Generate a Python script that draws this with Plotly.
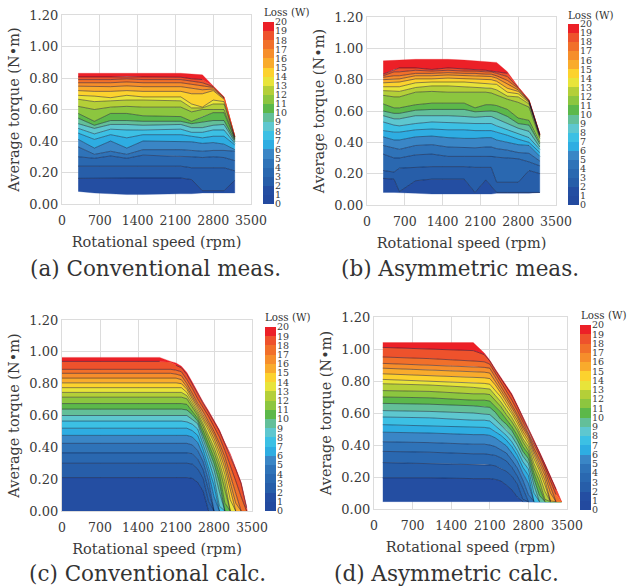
import numpy as np
import plotly.graph_objects as go

W, H = 629, 588

LOSS_TICKS = list(range(21))
BAND_COLORS = ["#234a9f", "#244ea2", "#275ea9", "#2a68b0", "#2f73b8", "#3a86c6", "#2eade2",
               "#3cc0e4", "#5ec7cf", "#63bf99", "#5cb84a", "#8cc63f", "#b4cf38", "#e8e43a",
               "#fcd22e", "#f9ab2c", "#f68e2b", "#f1702a", "#ee522c", "#ec2027"]
SPEED_TICKS = [0, 700, 1400, 2100, 2800, 3500]
TORQUE_TICKS = [0.0, 0.2, 0.4, 0.6, 0.8, 1.0, 1.2]

# Each row: torque of one loss contour (1 W ... 20 W) over the speeds; no region is below 1 W
A_SPEED = [300, 600, 900, 1200, 1500, 2200, 2400, 2600, 2800, 3000, 3200]
A_TORQUE = [
    [.08, .07, .065, .06, .06, .065, .065, .07, .07, .07, .07],
    [.163, .165, .165, .165, .165, .165, .155, .085, .085, .085, .15],
    [.24, .24, .24, .24, .24, .24, .23, .23, .23, .23, .21],
    [.30, .29, .305, .29, .31, .305, .30, .295, .30, .295, .275],
    [.363, .315, .335, .315, .345, .345, .34, .335, .34, .34, .335],
    [.41, .355, .40, .355, .40, .395, .395, .385, .39, .38, .345],
    [.45, .41, .44, .42, .44, .44, .43, .42, .43, .43, .375],
    [.48, .445, .475, .47, .47, .475, .455, .455, .47, .47, .385],
    [.51, .48, .505, .505, .50, .505, .485, .485, .50, .505, .395],
    [.545, .50, .53, .53, .525, .525, .51, .52, .53, .53, .405],
    [.575, .525, .575, .575, .56, .555, .525, .555, .58, .58, .41],
    [.62, .60, .615, .62, .615, .615, .585, .60, .60, .60, .415],
    [.665, .65, .655, .66, .66, .655, .61, .61, .635, .635, .42],
    [.69, .685, .675, .69, .68, .68, .635, .615, .66, .65, .425],
    [.72, .715, .715, .72, .715, .715, .70, .70, .72, .665, .427],
    [.748, .745, .745, .75, .745, .745, .735, .725, .73, .672, .428],
    [.77, .77, .77, .775, .77, .77, .76, .75, .74, .675, .429],
    [.79, .79, .79, .795, .79, .79, .78, .77, .745, .678, .43],
    [.807, .807, .807, .81, .807, .805, .795, .79, .748, .68, .43],
    [.83, .83, .83, .83, .83, .83, .825, .82, .75, .68, .43],
]

B_SPEED = [300, 500, 600, 900, 1200, 1500, 1800, 2000, 2200, 2300, 2400, 2600, 2800, 3000, 3200]
B_TORQUE = [
    [.08, .08, .08, .075, .07, .07, .07, .07, .07, .07, .075, .075, .075, .075, .08],
    [.17, .165, .085, .155, .165, .165, .165, .08, .16, .12, .08, .08, .08, .08, .08],
    [.22, .21, .235, .24, .245, .245, .245, .24, .24, .24, .145, .145, .145, .22, .20],
    [.325, .30, .30, .32, .325, .31, .31, .31, .31, .31, .305, .30, .295, .275, .25],
    [.38, .365, .355, .38, .385, .37, .365, .365, .37, .37, .36, .35, .335, .33, .28],
    [.435, .415, .415, .435, .44, .43, .425, .425, .43, .43, .415, .40, .385, .38, .31],
    [.475, .465, .465, .48, .485, .48, .48, .475, .475, .475, .465, .445, .42, .40, .335],
    [.53, .51, .505, .52, .53, .525, .52, .52, .52, .52, .505, .48, .45, .43, .355],
    [.57, .55, .55, .57, .57, .57, .565, .56, .565, .565, .55, .52, .49, .47, .37],
    [.60, .585, .585, .605, .61, .61, .61, .595, .60, .60, .595, .565, .52, .51, .39],
    [.645, .62, .62, .64, .65, .65, .65, .62, .64, .64, .635, .61, .555, .54, .40],
    [.70, .69, .69, .72, .725, .72, .72, .72, .72, .715, .70, .675, .655, .625, .425],
    [.73, .725, .725, .75, .76, .76, .755, .75, .75, .745, .735, .695, .69, .645, .435],
    [.755, .755, .755, .78, .785, .785, .785, .78, .775, .775, .77, .72, .71, .655, .44],
    [.78, .785, .785, .805, .805, .81, .805, .805, .80, .80, .79, .745, .725, .66, .445],
    [.80, .805, .805, .825, .825, .83, .825, .825, .82, .82, .81, .77, .735, .663, .448],
    [.815, .825, .825, .84, .84, .845, .84, .84, .835, .835, .825, .795, .745, .666, .45],
    [.825, .85, .85, .86, .855, .86, .855, .855, .85, .85, .84, .82, .75, .668, .452],
    [.835, .865, .875, .875, .865, .875, .87, .865, .86, .855, .85, .84, .752, .67, .454],
    [.92, .925, .925, .93, .93, .93, .925, .92, .915, .915, .91, .85, .755, .672, .456],
]

# Each row here: torque of the contours 1 W ... 20 W at one speed
C_SPEED = [0, 1800, 2000, 2100, 2200, 2300, 2400, 2500, 2600, 2700, 2800, 2900, 3000, 3100, 3200, 3300, 3400, 3408]
C_TORQUE_AT_SPEED = [
    [0, .21, .30, .365, .425, .475, .52, .565, .60, .64, .675, .715, .745, .775, .805, .835, .865, .89, .94, .965],
    [0, .21, .30, .365, .425, .475, .52, .565, .60, .64, .675, .715, .745, .775, .805, .835, .865, .89, .94, .965],
    [0, .21, .30, .365, .425, .475, .52, .565, .60, .64, .675, .715, .745, .775, .805, .835, .865, .89, .935, .94],
    [0, .21, .30, .365, .425, .475, .52, .565, .60, .64, .675, .715, .745, .775, .805, .835, .86, .885, .915, .93],
    [0, .21, .30, .365, .425, .475, .52, .565, .60, .64, .675, .715, .745, .775, .80, .825, .85, .875, .90, .91],
    [0, .21, .30, .365, .425, .475, .52, .56, .60, .635, .67, .705, .725, .745, .765, .78, .80, .825, .858, .87],
    [0, .205, .295, .36, .415, .465, .505, .545, .575, .605, .625, .65, .672, .687, .705, .72, .738, .77, .802, .81],
    [0, .18, .265, .325, .38, .43, .475, .515, .548, .565, .582, .60, .615, .632, .648, .663, .678, .705, .737, .745],
    [0, .125, .205, .26, .31, .35, .385, .42, .45, .48, .505, .53, .55, .57, .59, .61, .625, .65, .677, .685],
    [0, 0, .06, .13, .19, .24, .28, .32, .36, .39, .42, .45, .48, .505, .525, .545, .565, .595, .622, .63],
    [0, 0, 0, 0, 0, .09, .16, .21, .26, .30, .335, .37, .40, .43, .455, .48, .50, .53, .562, .57],
    [0, 0, 0, 0, 0, 0, 0, .03, .12, .18, .23, .27, .305, .34, .37, .40, .425, .465, .502, .51],
    [0, 0, 0, 0, 0, 0, 0, 0, 0, 0, .05, .13, .185, .23, .27, .305, .34, .38, .422, .43],
    [0, 0, 0, 0, 0, 0, 0, 0, 0, 0, 0, 0, 0, .07, .13, .18, .225, .29, .352, .36],
    [0, 0, 0, 0, 0, 0, 0, 0, 0, 0, 0, 0, 0, 0, 0, .05, .11, .19, .262, .27],
    [0, 0, 0, 0, 0, 0, 0, 0, 0, 0, 0, 0, 0, 0, 0, 0, 0, .09, .172, .18],
    [0, 0, 0, 0, 0, 0, 0, 0, 0, 0, 0, 0, 0, 0, 0, 0, 0, 0, .02, .03],
    [0, 0, 0, 0, 0, 0, 0, 0, 0, 0, 0, 0, 0, 0, 0, 0, 0, 0, 0, 0],
]

D_SPEED = [160, 1000, 1800, 2000, 2100, 2200, 2300, 2400, 2500, 2600, 2700, 2800, 2900, 3000, 3100, 3200, 3300, 3400]
D_TORQUE_AT_SPEED = [
    [.046, .195, .29, .36, .42, .48, .527, .575, .615, .66, .70, .74, .783, .81, .845, .88, .91, .95, 1.01, 1.04],
    [.046, .195, .285, .355, .415, .475, .52, .57, .61, .655, .695, .735, .775, .80, .835, .87, .90, .94, 1.00, 1.04],
    [.046, .19, .28, .345, .405, .465, .51, .555, .60, .645, .68, .72, .76, .79, .825, .86, .89, .925, .99, 1.04],
    [.046, .19, .28, .345, .405, .465, .51, .555, .595, .64, .68, .72, .755, .785, .82, .855, .885, .92, .965, .975],
    [.046, .19, .275, .34, .40, .46, .505, .55, .59, .635, .675, .715, .75, .78, .815, .85, .88, .905, .925, .93],
    [.046, .185, .27, .335, .39, .445, .485, .52, .56, .605, .64, .675, .71, .74, .775, .80, .825, .85, .868, .875],
    [.046, .175, .255, .32, .37, .42, .46, .49, .525, .56, .605, .64, .67, .70, .725, .745, .765, .79, .817, .825],
    [.046, .15, .235, .30, .35, .395, .43, .46, .495, .53, .56, .59, .62, .645, .67, .69, .71, .735, .762, .77],
    [.046, .12, .205, .26, .305, .35, .39, .42, .455, .49, .515, .545, .57, .595, .615, .635, .65, .68, .712, .72],
    [.046, .075, .155, .205, .255, .30, .335, .365, .40, .43, .46, .49, .51, .535, .555, .575, .59, .615, .642, .65],
    [.046, .046, .06, .13, .18, .225, .26, .295, .33, .36, .39, .42, .44, .465, .485, .505, .52, .545, .572, .58],
    [.046, .046, .046, .046, .09, .16, .21, .25, .285, .315, .345, .365, .39, .41, .43, .45, .465, .485, .502, .51],
    [.046, .046, .046, .046, .046, .046, .046, .10, .15, .19, .225, .255, .285, .315, .34, .36, .38, .41, .432, .44],
    [.046, .046, .046, .046, .046, .046, .046, .046, .046, .085, .135, .175, .21, .24, .265, .29, .31, .335, .352, .36],
    [.046, .046, .046, .046, .046, .046, .046, .046, .046, .046, .046, .06, .11, .15, .18, .21, .235, .26, .277, .285],
    [.046, .046, .046, .046, .046, .046, .046, .046, .046, .046, .046, .046, .046, .046, .05, .10, .14, .175, .202, .21],
    [.046, .046, .046, .046, .046, .046, .046, .046, .046, .046, .046, .046, .046, .046, .046, .046, .046, .09, .122, .13],
    [.046, .046, .046, .046, .046, .046, .046, .046, .046, .046, .046, .046, .046, .046, .046, .046, .046, .046, .046, .046],
]

PANELS = [
    dict(speed=A_SPEED, torque=np.array(A_TORQUE), caption="(a) Conventional meas.",
         plot=(62, 251, 15, 204), bar=(263, 274, 22, 204), cap=(155, 268), title_x=287, title_y=12),
    dict(speed=B_SPEED, torque=np.array(B_TORQUE), caption="(b) Asymmetric meas.",
         plot=(367, 556, 17, 205), bar=(568, 579, 24, 205), cap=(460, 268), title_x=591, title_y=15),
    dict(speed=C_SPEED, torque=np.array(C_TORQUE_AT_SPEED).T, caption="(c) Conventional calc.",
         plot=(62, 252, 320, 511), bar=(265, 276, 327, 511), cap=(147, 573), title_x=288, title_y=317),
    dict(speed=D_SPEED, torque=np.array(D_TORQUE_AT_SPEED).T, caption="(d) Asymmetric calc.",
         plot=(374, 567, 317, 509), bar=(580, 591, 325, 510), cap=(447, 573), title_x=604, title_y=315),
]

FONT = "DejaVu Serif"
INK = "#3a3a3a"
GRID = "#dcdcdc"


def dom_x(a, b):
    return [a / W, b / W]


def dom_y(top, bottom):
    return [1 - bottom / H, 1 - top / H]


fig = go.Figure()
layout = dict(
    template="none",
    width=W, height=H, autosize=False, margin=dict(l=0, r=0, t=0, b=0),
    paper_bgcolor="white", plot_bgcolor="white", showlegend=False,
    font=dict(family=FONT, color=INK),
)
annotations = []

for n, p in enumerate(PANELS):
    xa = f"x{2 * n + 1}"
    ya = f"y{2 * n + 1}"
    xb = f"x{2 * n + 2}"
    yb = f"y{2 * n + 2}"
    speed = list(p["speed"])
    torque = p["torque"]
    floor = torque[0]
    top = torque[-1]

    # Rows hold the contours 1..20 W, so the band between rows i and i+1 is band i+1 of the scale
    for i in range(len(torque) - 1):
        color = BAND_COLORS[i + 1]
        lower = [float(v) for v in torque[i]]
        upper = [float(v) for v in torque[i + 1]]
        fig.add_trace(go.Scatter(
            x=speed + speed[::-1], y=upper + lower[::-1], mode="lines", fill="toself",
            fillcolor=color, line=dict(color=color, width=0.3), xaxis=xa, yaxis=ya,
            hoverinfo="skip",
        ))

    for row in torque[1:-1]:
        hidden = (row <= floor + 1e-9) | (top - row < 0.005)
        ys = []
        for j, v in enumerate(row):
            left = hidden[j - 1] if j > 0 else True
            right = hidden[j + 1] if j < len(row) - 1 else True
            ys.append(None if (hidden[j] and left and right) else float(v))
        # Contours that run into the upper edge are left out over that stretch
        for j, v in enumerate(row):
            if top[j] - v < 0.005:
                ys[j] = None
        fig.add_trace(go.Scatter(
            x=speed, y=ys, mode="lines", line=dict(color="rgba(10,15,50,0.78)", width=0.6),
            xaxis=xa, yaxis=ya, hoverinfo="skip",
        ))

    fig.add_trace(go.Heatmap(
        x=[0], y=[k + 0.5 for k in LOSS_TICKS[:-1]], z=[[k] for k in LOSS_TICKS[:-1]],
        colorscale=[[k / 19, c] for k, c in enumerate(BAND_COLORS)], zmin=0, zmax=19,
        showscale=False, xaxis=xb, yaxis=yb, hoverinfo="skip",
    ))

    x0, x1, y0, y1 = p["plot"]
    axis_common = dict(showgrid=True, gridcolor=GRID, gridwidth=1.4, zeroline=False, automargin=False,
                       showline=True, linecolor=GRID, linewidth=1.4, mirror=True, ticks="")
    layout["xaxis" + str(2 * n + 1)] = dict(
        domain=dom_x(x0, x1), range=[0, 3500], tickvals=SPEED_TICKS, anchor=ya, ticklabelstandoff=5,
        tickfont=dict(size=12.5), title=dict(text="Rotational speed (rpm)", font=dict(size=14.5), standoff=9),
        **axis_common)
    layout["yaxis" + str(2 * n + 1)] = dict(
        domain=dom_y(y0, y1), range=[0, 1.2], tickvals=TORQUE_TICKS, tickformat=".2f", anchor=xa,
        tickfont=dict(size=13), title=dict(text="Average torque (N•m)", font=dict(size=14.5), standoff=6),
        **axis_common)

    bx0, bx1, by0, by1 = p["bar"]
    layout["xaxis" + str(2 * n + 2)] = dict(domain=dom_x(bx0, bx1), visible=False, anchor=yb, automargin=False)
    layout["yaxis" + str(2 * n + 2)] = dict(
        domain=dom_y(by0, by1), range=[0, 20], side="right", anchor=xb, tickvals=LOSS_TICKS,
        showgrid=False, zeroline=False, showline=False, ticks="", ticklen=0,
        tickfont=dict(size=9.5), automargin=False)

    annotations.append(dict(
        text=p["caption"], x=p["cap"][0] / W, y=1 - p["cap"][1] / H, xref="paper", yref="paper",
        showarrow=False, xanchor="center", yanchor="middle", font=dict(size=21.5, color="#333")))
    annotations.append(dict(
        text="Loss (W)", x=p["title_x"] / W, y=1 - p["title_y"] / H, xref="paper", yref="paper",
        showarrow=False, xanchor="center", yanchor="middle", font=dict(size=10.3, color="#333")))

layout["annotations"] = annotations
fig.update_layout(**layout)
fig.write_html("out.html", config=dict(displayModeBar=False), post_script="document.body.style.margin='0';")
